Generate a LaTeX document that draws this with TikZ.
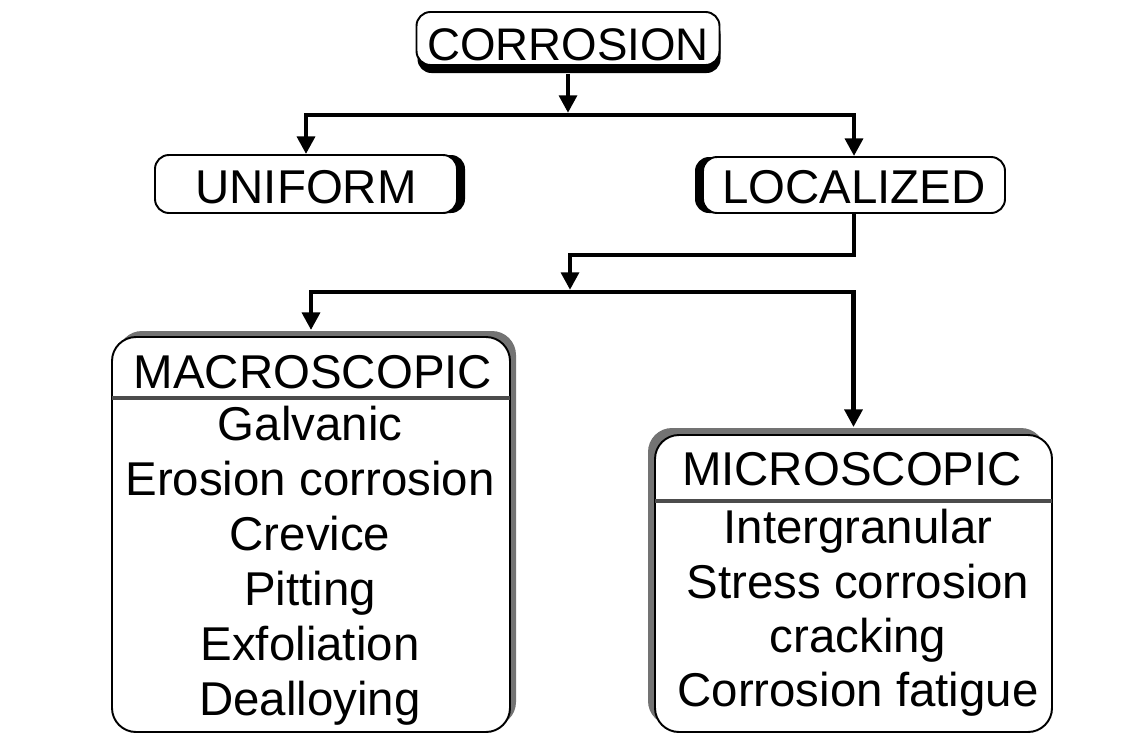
\documentclass[tikz,border=0pt]{standalone}
\usepackage{fontspec}
\setmainfont{Liberation Sans}
\usetikzlibrary{arrows.meta,shadows}
\newlength\pxu
\setlength\pxu{0.02cm}
\begin{document}
\begin{tikzpicture}[x=0.02cm,y=-0.02cm,
  txt/.style={font=\fontsize{27}{30}\selectfont, inner sep=0pt},
  box/.style={draw=black, line width=1.1pt, fill=white, rounded corners=14\pxu, inner sep=0pt, font=\fontsize{27}{30}\selectfont},
  bigbox/.style={box, rounded corners=24\pxu},
  capt/.style={text height=#1\pxu, text depth=0pt},
  conn/.style={line width=2.6pt, line join=miter},
  arr/.style={conn, -{Triangle[width=10pt,length=10pt]}},
  sep/.style={line width=2.2pt, draw=black!70}
]
\useasboundingbox (0,0) rectangle (1145,734);

% top level
\node[box, capt=43, minimum width=303\pxu, minimum height=53\pxu,
  font=\fontsize{26}{30}\selectfont,
  drop shadow={shadow xshift=1\pxu, shadow yshift=-8\pxu, fill=black, opacity=1}]
  (corr) at (568,38.5) {CORROSION};

\node[box, capt=38, minimum width=302\pxu, minimum height=58\pxu,
  drop shadow={shadow xshift=8\pxu, shadow yshift=0pt, fill=black, opacity=1}]
  (unif) at (306,184) {UNIFORM};

\node[box, capt=36, minimum width=302\pxu, minimum height=56\pxu,
  drop shadow={shadow xshift=-8\pxu, shadow yshift=0pt, fill=black, opacity=1}]
  (loc) at (854,185) {LOCALIZED};

% lower boxes
\node[bigbox, minimum width=398\pxu, minimum height=395\pxu,
  drop shadow={shadow xshift=6\pxu, shadow yshift=6\pxu, fill=black!55, opacity=1}]
  (macro) at (311,534.5) {};
\node[bigbox, minimum width=397\pxu, minimum height=297\pxu,
  drop shadow={shadow xshift=-7\pxu, shadow yshift=7\pxu, fill=black!55, opacity=1}]
  (micro) at (853.5,583.5) {};

\draw[sep] (112,398) -- (510,398);
\draw[sep] (655,501) -- (1052,501);

\node[txt, anchor=base] (macroH) at (313,388) {MACROSCOPIC};
\node[txt, anchor=base] (m1) at (310,440) {Galvanic};
\node[txt, anchor=base] (m2) at (310,495) {Erosion corrosion};
\node[txt, anchor=base] (m3) at (310,550) {Crevice};
\node[txt, anchor=base] (m4) at (310,605) {Pitting};
\node[txt, anchor=base] (m5) at (310,660) {Exfoliation};
\node[txt, anchor=base] (m6) at (310,715) {Dealloying};

\node[txt, anchor=base] (microH) at (852,485) {MICROSCOPIC};
\node[txt, anchor=base] (u1) at (858,543) {Intergranular};
\node[txt, anchor=base] (u2) at (858,598) {Stress corrosion};
\node[txt, anchor=base] (u3) at (858,652) {cracking};
\node[txt, anchor=base] (u4) at (858,706) {Corrosion fatigue};

% connectors
\coordinate (j1) at (568,115);
\coordinate (j2) at (570,255);
\coordinate (j3) at (570,292);

\draw[arr, shorten >=1.2pt] ([yshift=-8\pxu]corr.south) -- (j1);
\draw[arr] (j1) -| (unif.north);
\draw[arr] (j1) -| (loc.north);

\draw[arr, shorten >=1.2pt] (loc.south) |- (j2) -- (j3);
\draw[arr] (j3) -| ([yshift=6\pxu]macro.north);
\draw[arr] (j3) -| ([yshift=7\pxu]micro.north);
\end{tikzpicture}
\end{document}
